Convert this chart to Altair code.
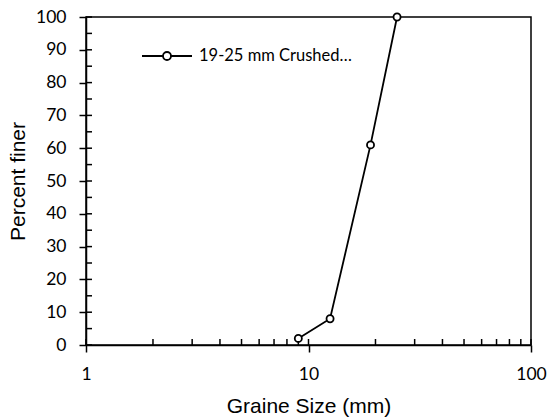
import altair as alt
import pandas as pd

# Sieve analysis: grain size (mm) against cumulative percent finer
grain_size_mm = [9.0, 12.5, 19.0, 25.0]
percent_finer = [2, 8, 61, 100]
series_name = "19-25 mm Crushed…"

# Axis tick values
x_major = [1, 10, 100]
x_ticks_all = [1, 2, 3, 4, 5, 6, 7, 8, 9, 10, 20, 30, 40, 50, 60, 70, 80, 90, 100]
y_major = list(range(0, 101, 10))
y_ticks_all = list(range(0, 101, 5))

W, H = 445, 328

df = pd.DataFrame({
    "size": grain_size_mm,
    "finer": percent_finer,
    "series": [series_name] * len(grain_size_mm),
})
xt = pd.DataFrame({"v": x_ticks_all})
yt = pd.DataFrame({"v": y_ticks_all})

x_scale = alt.Scale(type="log", domain=[1, 100], nice=False)
y_scale = alt.Scale(domain=[0, 100], nice=False)

# legend glyph: a short line with an open circle in the middle
legend_symbol = ("M-1,0H-0.16M0.16,0H1"
                 "M-0.16,0A0.16,0.16,0,1,0,0.16,0A0.16,0.16,0,1,0,-0.16,0Z")

x_axis = alt.Axis(
    values=x_major, format="d", title="Graine Size (mm)", grid=False,
    tickSize=7, tickColor="black", tickWidth=1.5,
    domainColor="black", domainWidth=1.5,
    labelFont="Lato", labelFontSize=17.5, labelColor="black",
    labelBaseline="alphabetic", labelPadding=27, labelFlush=False,
    titleFont="Liberation Sans", titleFontSize=21, titleFontWeight="normal",
    titleColor="black", titleX=W / 2, titleY=67, titleBaseline="alphabetic",
)
y_axis = alt.Axis(
    values=y_major, title="Percent finer", grid=False,
    tickSize=7, tickColor="black", tickWidth=1.5,
    domainColor="black", domainWidth=1.5,
    labelFont="Lato", labelFontSize=17.5, labelColor="black",
    labelBaseline="middle", labelPadding=13, labelFlush=False,
    titleFont="Liberation Sans", titleFontSize=21, titleFontWeight="normal",
    titleColor="black", titleX=-61.7, titleY=H / 2, titleAngle=270,
    titleBaseline="alphabetic", titleAlign="center",
)

line = alt.Chart(df).mark_line(strokeWidth=1.8).encode(
    x=alt.X("size:Q", scale=x_scale, axis=x_axis),
    y=alt.Y("finer:Q", scale=y_scale, axis=y_axis),
    color=alt.Color(
        "series:N",
        scale=alt.Scale(range=["black"]),
        legend=alt.Legend(
            title=None, orient="none", legendX=55, legendY=13,
            symbolType=legend_symbol, symbolSize=2500,
            symbolStrokeWidth=1.8, symbolFillColor="white",
            symbolStrokeColor="black", symbolOpacity=1,
            labelFont="Lato", labelFontSize=16.5, labelColor="black",
            labelOffset=6, padding=0, labelLimit=400,
        ),
    ),
)

points = alt.Chart(df).mark_circle(
    size=50, color="white", stroke="black", strokeWidth=1.8, opacity=1
).encode(
    x=alt.X("size:Q", scale=x_scale, axis=x_axis),
    y=alt.Y("finer:Q", scale=y_scale, axis=y_axis),
)

# inward tick marks (majors cross the axis, minors sit inside)
x_inner = alt.Chart(xt).mark_rule(color="black", strokeWidth=1.5).encode(
    x=alt.X("v:Q", scale=x_scale, axis=x_axis),
    y=alt.value(H),
    y2=alt.value(H - 6),
)
y_inner = alt.Chart(yt).mark_rule(color="black", strokeWidth=1.5).encode(
    y=alt.Y("v:Q", scale=y_scale, axis=y_axis),
    x=alt.value(0),
    x2=alt.value(6),
)

chart = alt.layer(line, x_inner, y_inner, points).properties(
    width=W, height=H,
    autosize=alt.AutoSizeParams(type="none"),
    padding={"left": 86, "top": 17, "right": 16, "bottom": 72},
    background="white",
).configure_view(stroke="black", strokeWidth=1.5)

chart.save("out.html", embed_options={"renderer": "svg", "actions": False})
